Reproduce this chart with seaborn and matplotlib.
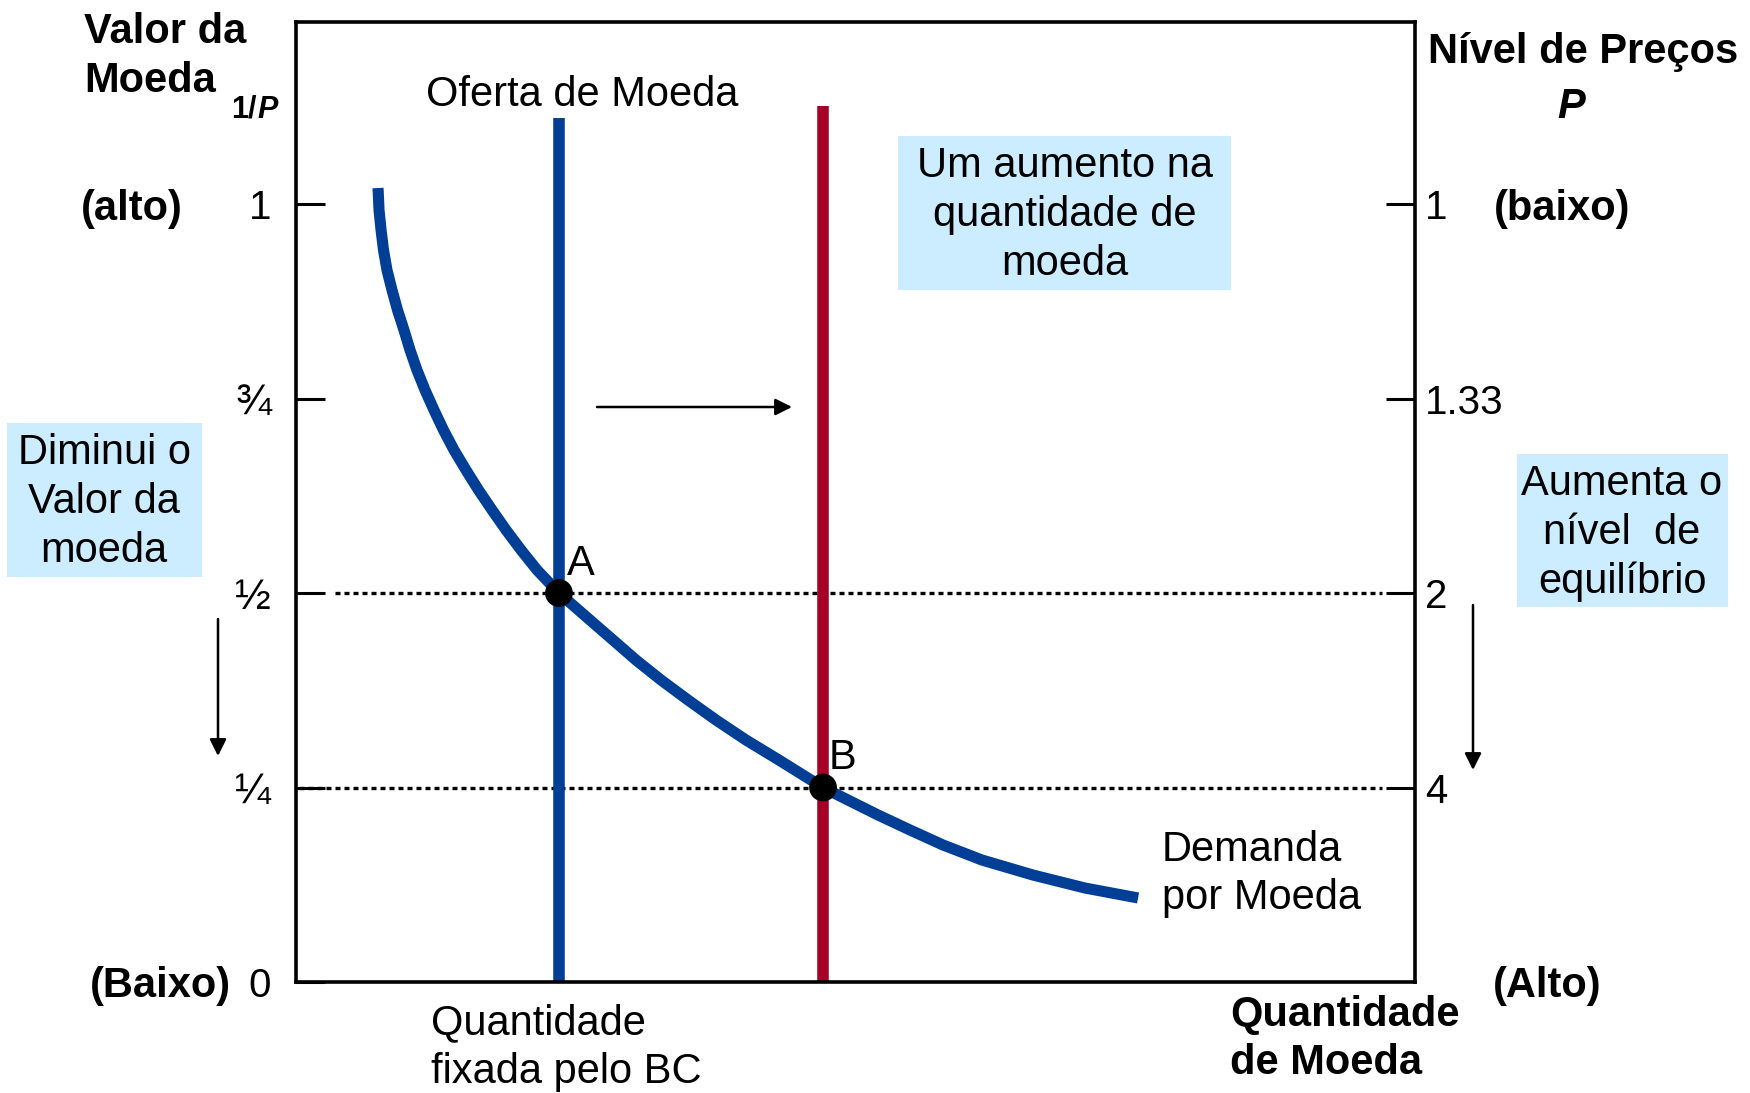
import numpy as np
import matplotlib
matplotlib.use('Agg')
import matplotlib.pyplot as plt
import seaborn as sns
from matplotlib.patches import Rectangle, FancyArrowPatch

# Demand curve for money (quantity on 0..1 scale, value 1/P)
demand_q = [0.0733, 0.0742, 0.0760, 0.0782, 0.0813, 0.0858, 0.0907, 0.0965, 0.1019, 0.1081,
            0.1153, 0.1233, 0.1318, 0.1412, 0.1519, 0.1631, 0.1752, 0.1877, 0.2011, 0.2154,
            0.2350, 0.2627, 0.2833, 0.3038, 0.3262, 0.3503, 0.3753, 0.4021, 0.4316, 0.4710,
            0.4933, 0.5201, 0.5487, 0.5782, 0.6130, 0.6586, 0.7051, 0.7525]
demand_v = [1.0206, 0.9923, 0.9666, 0.9409, 0.9152, 0.8895, 0.8638, 0.8380, 0.8123, 0.7866,
            0.7609, 0.7352, 0.7095, 0.6838, 0.6581, 0.6324, 0.6067, 0.5810, 0.5553, 0.5296,
            0.5000, 0.4653, 0.4396, 0.4139, 0.3882, 0.3625, 0.3368, 0.3111, 0.2853, 0.2500,
            0.2339, 0.2147, 0.1954, 0.1761, 0.1568, 0.1375, 0.1208, 0.1080]

# Money supply: before (blue) and after (red)
supply_q = [0.235, 0.471]
supply_top = [1.11, 1.126]
supply_colors = ['#003F95', '#A50026']

# Equilibria
eq_labels = ['A', 'B']
eq_q = [0.235, 0.471]
eq_v = [0.5, 0.25]

# Axis ticks
value_ticks = [0, 0.25, 0.5, 0.75, 1]
value_labels = ['0', '\u00bc', '\u00bd', '\u00be', '1']
price_ticks = [0.25, 0.5, 0.75, 1]
price_labels = ['4', '2', '1.33', '1']

W, H = 1750, 1093
BOX = '#CCECFF'
FS = 30
LS = 1.28

sns.set_theme(style='white')
plt.rcParams['font.family'] = ['Liberation Sans', 'DejaVu Sans']
plt.rcParams['text.color'] = 'black'


def fx(x, y):
    return x / W, 1 - y / H


fig = plt.figure(figsize=(W / 100, H / 100), dpi=100)
ax = fig.add_axes([296 / W, 1 - 982 / H, 1119 / W, 960 / H])
ax.set_xlim(0, 1)
ax.set_ylim(0, 1.234)

for s in ax.spines.values():
    s.set_linewidth(2.6)
    s.set_color('black')
    s.set_visible(True)

# dotted guide lines
ax.hlines(eq_v[0], 0.035, 0.9705, colors='black', lw=2.4, linestyles=(0, (1.5, 1.2)), zorder=1)
ax.hlines(eq_v[1], 0.003, 0.9705, colors='black', lw=2.4, linestyles=(0, (1.5, 1.2)), zorder=1)

# supply lines
for q, top, c in zip(supply_q, supply_top, supply_colors):
    ax.vlines(q, 0, top, colors=c, lw=8.3, zorder=2)

# demand curve
sns.lineplot(x=demand_q, y=demand_v, sort=False, color='#003F95', lw=8, ax=ax, zorder=3,
             solid_capstyle='butt', solid_joinstyle='round')

# equilibrium points
sns.scatterplot(x=eq_q, y=eq_v, color='black', s=400, edgecolor='none', ax=ax, zorder=5)

ax.set_xticks([])
ax.set_yticks(value_ticks, value_labels)
ax.tick_params(axis='y', direction='in', length=21, width=2.2, pad=18, labelsize=29,
               left=True, labelcolor='black', color='black')
for lbl in ax.get_yticklabels():
    if lbl.get_text() in value_labels[1:4]:
        lbl.set_fontsize(31)
ax.set_xlabel('')
ax.set_ylabel('')

ax2 = ax.twinx()
ax2.set_ylim(ax.get_ylim())
ax2.set_yticks(price_ticks, price_labels)
ax2.tick_params(axis='y', direction='in', length=21, width=2.2, pad=7, labelsize=29,
                right=True, labelcolor='black', color='black')
for s in ax2.spines.values():
    s.set_visible(False)

# background boxes
for (x0, y0, x1, y1) in [(898, 136, 1231, 290), (7, 423, 202, 577), (1517, 454, 1728, 607)]:
    fig.patches.append(Rectangle((x0 / W, 1 - y1 / H), (x1 - x0) / W, (y1 - y0) / H,
                                 transform=fig.transFigure, fc=BOX, ec='none', zorder=0))


def ftext(x, y, s, **kw):
    kw.setdefault('fontsize', FS)
    kw.setdefault('va', 'center')
    kw.setdefault('linespacing', LS)
    kw.setdefault('color', 'black')
    fig.text(*fx(x, y + 4), s, **kw)


# boxed texts
ftext(1065, 211, 'Um aumento na\nquantidade de\nmoeda', ha='center', ma='center')
ftext(104, 498, 'Diminui o\nValor da\nmoeda', ha='center', ma='center')
ftext(1622, 529, 'Aumenta o\nnível  de\nequilíbrio', ha='center', ma='center')

# axis titles
ftext(84, 28, 'Valor da', ha='left', fontweight='bold')
ftext(84, 77, 'Moeda', ha='left', fontweight='bold')
ftext(257, 106, '1/', ha='right', fontweight='bold', fontsize=22)
ftext(257, 106, 'P', ha='left', fontweight='bold', fontstyle='italic', fontsize=22)
ftext(132, 205, '(alto)', ha='center', fontweight='bold')
ftext(160, 982, '(Baixo)', ha='center', fontweight='bold')

ftext(1583, 48, 'Nível de Preços', ha='center', fontweight='bold')
ftext(1571, 103, 'P', ha='center', fontweight='bold', fontstyle='italic')
ftext(1562, 205, '(baixo)', ha='center', fontweight='bold')
ftext(1547, 982, '(Alto)', ha='center', fontweight='bold')
ftext(1230, 1035, 'Quantidade\nde Moeda', ha='left', fontweight='bold')

# curve labels
ftext(426, 91, 'Oferta de Moeda', ha='left')
ftext(431, 1044, 'Quantidade\nfixada pelo BC', ha='left')
ftext(1162, 870, 'Demanda\npor Moeda', ha='left')
ftext(581, 560, eq_labels[0], ha='center')
ftext(843, 754, eq_labels[1], ha='center')

# arrows
arrow = dict(arrowstyle='-|>', lw=1.8, color='black', mutation_scale=25, shrinkA=0, shrinkB=0)
for (x0, y0, x1, y1) in [(597, 407, 792, 407), (218, 619, 218, 756), (1473, 605, 1473, 770)]:
    fig.add_artist(FancyArrowPatch(fx(x0, y0), fx(x1, y1), transform=fig.transFigure, **arrow))

fig.savefig('out.png', dpi=100)
